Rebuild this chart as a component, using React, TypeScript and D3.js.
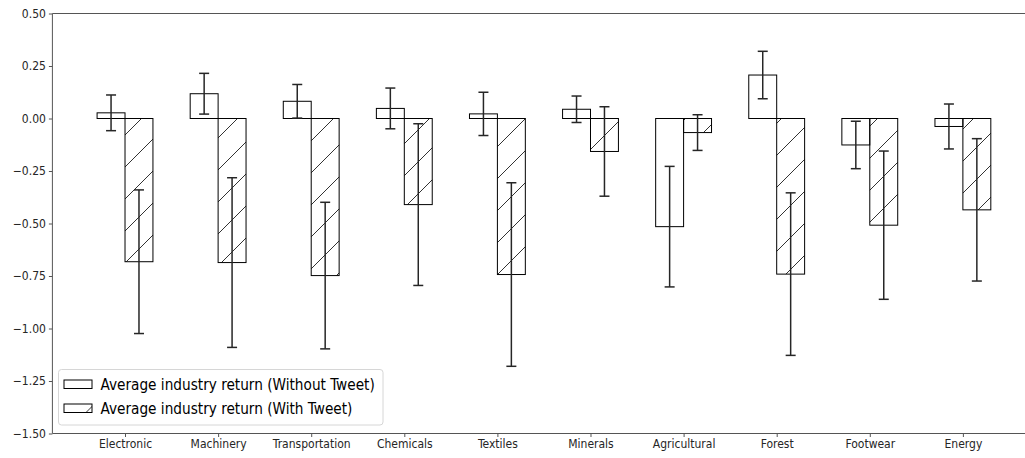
import * as d3 from "d3"
import { useRef, useEffect } from "react"

const categories = [
  "Electronic",
  "Machinery",
  "Transportation",
  "Chemicals",
  "Textiles",
  "Minerals",
  "Agricultural",
  "Forest",
  "Footwear",
  "Energy",
]
const withoutTweet = [0.027, 0.118, 0.082, 0.048, 0.022, 0.044, -0.515, 0.207, -0.126, -0.038]
const withoutTweetErr = [0.085, 0.097, 0.08, 0.097, 0.103, 0.063, 0.287, 0.113, 0.113, 0.107]
const withTweet = [-0.682, -0.686, -0.748, -0.41, -0.743, -0.157, -0.067, -0.741, -0.508, -0.435]
const withTweetErr = [0.342, 0.404, 0.349, 0.385, 0.437, 0.213, 0.085, 0.387, 0.353, 0.339]
const yTicks = [0.5, 0.25, 0, -0.25, -0.5, -0.75, -1.0, -1.25, -1.5]
const legendLabels = [
  "Average industry return (Without Tweet)",
  "Average industry return (With Tweet)",
]

const W = 1025
const H = 458
const barWidth = 0.3
const font = "'DejaVu Sans Condensed', 'DejaVu Sans', sans-serif"

export default function App() {
  const svgRef = useRef<SVGSVGElement>(null)

  useEffect(() => {
    const svg = d3.select(svgRef.current)
    svg.selectAll("*").remove()

    const x = d3.scaleLinear().domain([-0.78, 9.78]).range([52.4, 1035.5])
    const y = d3.scaleLinear().domain([-1.5, 0.5]).range([433.5, 13.5])
    const pxW = x(barWidth) - x(0)

    // hatch pattern
    const defs = svg.append("defs")
    const pat = defs
      .append("pattern")
      .attr("id", "hatch")
      .attr("patternUnits", "userSpaceOnUse")
      .attr("width", 32)
      .attr("height", 32)
      .attr("x", 4)
    pat
      .append("path")
      .attr("d", "M-8,8 L8,-8 M0,32 L32,0 M24,40 L40,24")
      .attr("stroke", "#333")
      .attr("stroke-width", 1)

    const plot = svg.append("g")

    // bars without tweet
    plot
      .selectAll("rect.wo")
      .data(withoutTweet)
      .join("rect")
      .attr("class", "wo")
      .attr("x", (_, i) => x(i - barWidth))
      .attr("y", (d) => y(Math.max(0, d)))
      .attr("width", pxW)
      .attr("height", (d) => Math.abs(y(d) - y(0)))
      .attr("fill", "white")
      .attr("stroke", "#000")
      .attr("stroke-width", 1)

    // bars with tweet
    plot
      .selectAll("rect.wi")
      .data(withTweet)
      .join("rect")
      .attr("class", "wi")
      .attr("x", (_, i) => x(i))
      .attr("y", (d) => y(Math.max(0, d)))
      .attr("width", pxW)
      .attr("height", (d) => Math.abs(y(d) - y(0)))
      .attr("fill", "url(#hatch)")
      .attr("stroke", "#000")
      .attr("stroke-width", 1)

    // error bars
    const errs = [
      { vals: withoutTweet, errs: withoutTweetErr, off: -barWidth / 2 },
      { vals: withTweet, errs: withTweetErr, off: barWidth / 2 },
    ]
    errs.forEach((s) => {
      s.vals.forEach((v, i) => {
        const cx = x(i + s.off)
        const y1 = y(v + s.errs[i])
        const y2 = y(v - s.errs[i])
        const g = plot.append("g").attr("stroke", "#262626").attr("stroke-width", 1.5)
        g.append("line").attr("x1", cx).attr("x2", cx).attr("y1", y1).attr("y2", y2)
        g.append("line").attr("x1", cx - 5).attr("x2", cx + 5).attr("y1", y1).attr("y2", y1)
        g.append("line").attr("x1", cx - 5).attr("x2", cx + 5).attr("y1", y2).attr("y2", y2)
      })
    })

    // axes
    const yAxis = svg
      .append("g")
      .attr("transform", `translate(${x(-0.78)},0)`)
      .call(
        d3
          .axisLeft(y)
          .tickValues(yTicks)
          .tickSize(3.5)
          .tickSizeOuter(0)
          .tickFormat((d) => d3.format(".2f")(d as number).replace("-", "\u2212")),
      )
    yAxis.select(".domain").remove()
    yAxis.selectAll("line").attr("stroke", "#555")
    yAxis
      .selectAll("text")
      .attr("font-family", font)
      .attr("font-size", 12)
      .attr("fill", "#262626")
      .attr("x", -6.5)

    const xAxis = svg
      .append("g")
      .attr("transform", `translate(0,${y(-1.5)})`)
      .call(
        d3
          .axisBottom(x)
          .tickValues(d3.range(categories.length))
          .tickSize(3.5)
          .tickSizeOuter(0)
          .tickFormat((d) => categories[d as number]),
      )
    xAxis.select(".domain").remove()
    xAxis.selectAll("line").attr("stroke", "#555")
    xAxis
      .selectAll("text")
      .attr("font-family", font)
      .attr("font-size", 12)
      .attr("fill", "#262626")
      .attr("y", 6)

    // spines (right one falls outside the crop)
    const spine = svg.append("g").attr("stroke", "#555").attr("stroke-width", 1).attr("fill", "none")
    spine.append("line").attr("x1", x(-0.78)).attr("x2", x(-0.78)).attr("y1", y(0.5)).attr("y2", y(-1.5))
    spine.append("line").attr("x1", x(-0.78)).attr("x2", x(9.78)).attr("y1", y(0.5)).attr("y2", y(0.5))
    spine.append("line").attr("x1", x(-0.78)).attr("x2", x(9.78)).attr("y1", y(-1.5)).attr("y2", y(-1.5))

    // legend
    const lg = svg.append("g").attr("transform", "translate(58.5,369.5)")
    lg.append("rect")
      .attr("width", 324.5)
      .attr("height", 55.5)
      .attr("rx", 3)
      .attr("fill", "white")
      .attr("fill-opacity", 0.8)
      .attr("stroke", "#d6d6d6")
    legendLabels.forEach((label, i) => {
      const row = lg.append("g").attr("transform", `translate(0,${10.5 + i * 24})`)
      row
        .append("rect")
        .attr("x", 5.5)
        .attr("y", 0)
        .attr("width", 28)
        .attr("height", 8.5)
        .attr("fill", i === 0 ? "white" : "url(#hatch)")
        .attr("stroke", "#000")
      row
        .append("text")
        .attr("x", 42)
        .attr("y", 9.5)
        .attr("font-family", font)
        .attr("font-size", 15.2)
        .attr("fill", "#000")
        .text(label)
    })
  }, [])

  return (
    <div style={{ position: "absolute", left: 0, top: 0, width: W, height: H, background: "white" }}>
      <svg ref={svgRef} width={W} height={H} style={{ display: "block" }}></svg>
    </div>
  )
}
